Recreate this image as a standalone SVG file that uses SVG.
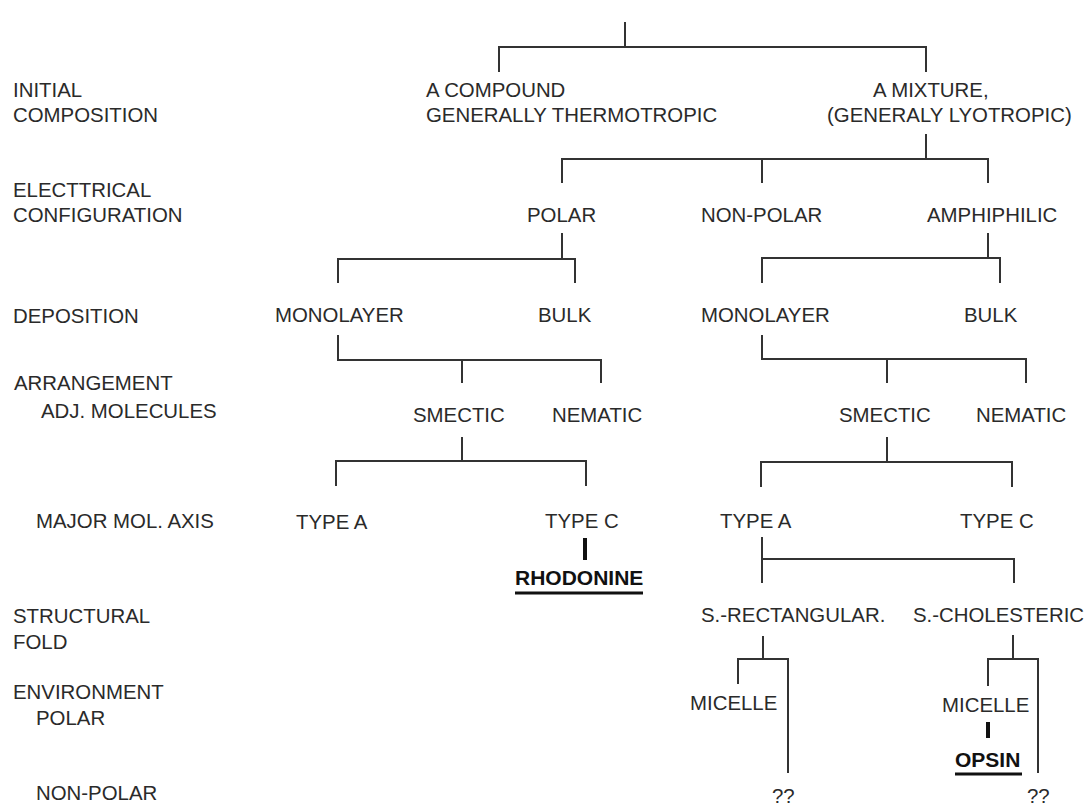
<svg xmlns="http://www.w3.org/2000/svg" width="1090" height="809" viewBox="0 0 1090 809">
<style>
text{font-family:"Liberation Sans",Arial,sans-serif;font-size:20.4px;fill:#2a2a2a}
.b{font-weight:bold;font-size:21px;fill:#111}
.ln{stroke:#333;stroke-width:2;fill:none;stroke-linecap:butt}
.tk{stroke:#111;stroke-width:4;fill:none}
.ul{stroke:#111;stroke-width:3;fill:none}
</style>
<rect width="1090" height="809" fill="#fff"/>
<g id="row-labels">
<text x="13" y="97">INITIAL</text>
<text x="13" y="122">COMPOSITION</text>
<text x="13" y="197">ELECTTRICAL</text>
<text x="13" y="222">CONFIGURATION</text>
<text x="13" y="323">DEPOSITION</text>
<text x="14" y="390">ARRANGEMENT</text>
<text x="41" y="418">ADJ. MOLECULES</text>
<text x="36" y="528">MAJOR MOL. AXIS</text>
<text x="13" y="623">STRUCTURAL</text>
<text x="13" y="649">FOLD</text>
<text x="13" y="699">ENVIRONMENT</text>
<text x="36" y="725">POLAR</text>
<text x="36" y="800">NON-POLAR</text>
</g>
<g id="connectors">
<path class="ln" d="M625 22V47M499 72V47H926V72"/>
<path class="ln" d="M926 134V159M562 183V159H988V183M762 159V183"/>
<path class="ln" d="M562 233V259M338 283V259H575V283"/>
<path class="ln" d="M988 233V258M762 283V258H1000V283"/>
<path class="ln" d="M338 335V360H601V383M462 360V383"/>
<path class="ln" d="M762 335V359H1026V383M887 359V383"/>
<path class="ln" d="M462 437V461M336 486V461H586V486"/>
<path class="ln" d="M887 437V462M761 487V462H1012V487"/>
<path class="ln" d="M762 537V583M762 559H1014V583"/>
<path class="ln" d="M763 636V659M738 684V659H788V773"/>
<path class="ln" d="M1013 635V659M988 686V659H1038V773"/>
<path class="tk" d="M585 538V560M988 722V738"/>
<path class="ul" d="M515 593H643M955 774H1022"/>
</g>
<g id="n-compound"><text x="426" y="97">A COMPOUND</text><text x="426" y="122">GENERALLY THERMOTROPIC</text></g>
<g id="n-mixture"><text x="873" y="97">A MIXTURE,</text><text x="827" y="122">(GENERALY LYOTROPIC)</text></g>
<g id="n-polar"><text x="527" y="222">POLAR</text></g>
<g id="n-nonpolar"><text x="701" y="222">NON-POLAR</text></g>
<g id="n-amphiphilic"><text x="927" y="222">AMPHIPHILIC</text></g>
<g id="n-monolayer-1"><text x="275" y="322">MONOLAYER</text></g>
<g id="n-bulk-1"><text x="538" y="322">BULK</text></g>
<g id="n-monolayer-2"><text x="701" y="322">MONOLAYER</text></g>
<g id="n-bulk-2"><text x="964" y="322">BULK</text></g>
<g id="n-smectic-1"><text x="413" y="422">SMECTIC</text></g>
<g id="n-nematic-1"><text x="552" y="422">NEMATIC</text></g>
<g id="n-smectic-2"><text x="839" y="422">SMECTIC</text></g>
<g id="n-nematic-2"><text x="976" y="422">NEMATIC</text></g>
<g id="n-typea-1"><text x="296" y="529">TYPE A</text></g>
<g id="n-typec-1"><text x="545" y="528">TYPE C</text></g>
<g id="n-typea-2"><text x="720" y="528">TYPE A</text></g>
<g id="n-typec-2"><text x="960" y="528">TYPE C</text></g>
<g id="n-rhodonine"><text class="b" x="515" y="585">RHODONINE</text></g>
<g id="n-srect"><text x="701" y="622">S.-RECTANGULAR.</text></g>
<g id="n-schol"><text x="913" y="622">S.-CHOLESTERIC</text></g>
<g id="n-micelle-1"><text x="690" y="710">MICELLE</text></g>
<g id="n-micelle-2"><text x="942" y="712">MICELLE</text></g>
<g id="n-opsin"><text class="b" x="955" y="767">OPSIN</text></g>
<g id="n-q1"><text x="772" y="803">??</text></g>
<g id="n-q2"><text x="1027" y="803">??</text></g>
</svg>
